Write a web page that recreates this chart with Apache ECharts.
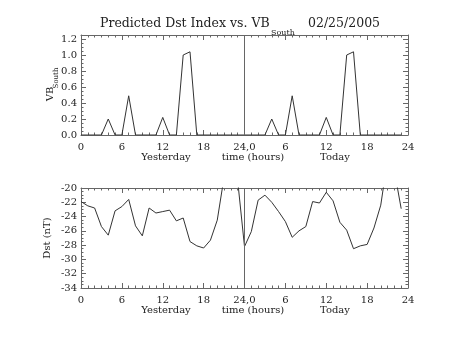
<!DOCTYPE html>
<html>
<head>
<meta charset="utf-8">
<script src="https://cdn.jsdelivr.net/npm/echarts@6/dist/echarts.min.js"></script>
<style>html,body{margin:0;padding:0;background:#fff}#c{width:453px;height:340px}</style>
</head>
<body>
<div id="c"></div>
<script>
// ---- data ----
const xTickLabels = ['0','6','12','18','24,0','6','12','18','24'];
const vbYesterday = [0,0,0,0,0.20,0,0,0.49,0,0,0,0,0.22,0,0,1.00,1.04,0,0,0,0,0,0,0];
const vbToday     = [0,0,0,0,0.20,0,0,0.49,0,0,0,0,0.22,0,0,1.00,1.04,0,0,0,0,0,0,0];
const dstYesterday = [-21.9,-22.5,-22.8,-25.4,-26.6,-23.2,-22.6,-21.6,-25.3,-26.7,-22.8,-23.5,-23.3,-23.1,-24.6,-24.2,-27.5,-28.1,-28.4,-27.3,-24.5,-18.5,-17.0,-19.0];
const dstToday     = [-28.2,-26.1,-21.7,-21.0,-22.0,-23.3,-24.7,-26.9,-26.0,-25.4,-21.9,-22.1,-20.6,-21.8,-24.8,-25.9,-28.5,-28.1,-27.9,-25.6,-22.4,-16.0,-17.6,-22.9];
const dayLabels = ['Yesterday','time (hours)','Today'];

const FONT = 'DejaVu Serif';
const INK = '#333';
const AX = '#666';

const vb = vbYesterday.concat(vbToday).map((v,i)=>[i,v]);
const dst = dstYesterday.concat(dstToday).map((v,i)=>[i,v]);

function xAxisDef(grid, pos, labels){
  return {
    type:'value', gridIndex:grid, position:pos, min:0, max:48, interval:6,
    axisLine:{show:true, onZero:false, lineStyle:{color:AX, width:1}},
    axisTick:{show:true, inside:true, length:5, lineStyle:{color:AX}},
    minorTick:{show:true, splitNumber:6, length:2.5, lineStyle:{color:AX}},
    splitLine:{show:false},
    axisLabel:{show:labels, margin:7, fontFamily:FONT, fontSize:10, color:'#222',
      formatter:(v)=>xTickLabels[Math.round(v/6)]}
  };
}
function yAxisDef(grid, pos, min, max, interval, labels, fmt, minorSplit){
  return {
    type:'value', gridIndex:grid, position:pos, min:min, max:max, interval:interval,
    axisLine:{show:true, onZero:false, lineStyle:{color:AX, width:1}},
    axisTick:{show:true, inside:true, length:5, lineStyle:{color:AX}},
    minorTick:{show:true, splitNumber:minorSplit, length:2.5, lineStyle:{color:AX}},
    splitLine:{show:false},
    axisLabel:{show:labels, margin:4, fontFamily:FONT, fontSize:10, color:'#222', formatter:fmt}
  };
}

const chart = echarts.init(document.getElementById('c'), null, {renderer:'canvas'});
const txt = (x,y,text,size,extra)=>Object.assign({type:'text', x:x, y:y, silent:true,
  style:{text:text, fontFamily:FONT, fontSize:size, fill:'#222', textAlign:'center', textVerticalAlign:'middle'}}, extra||{});
const ltxt = (x,y,text,size)=>({type:'text', x:x, y:y, silent:true,
  style:{text:text, fontFamily:FONT, fontSize:size, fill:'#222', textAlign:'left', textVerticalAlign:'middle'}});

chart.setOption({
  backgroundColor:'#fff',
  animation:false,
  grid:[
    {left:81, right:45, top:35, height:100},
    {left:81, right:45, top:188, height:100}
  ],
  xAxis:[
    xAxisDef(0,'bottom',true), xAxisDef(0,'top',false),
    xAxisDef(1,'bottom',true), xAxisDef(1,'top',false)
  ],
  yAxis:[
    yAxisDef(0,'left',0,1.25,0.2,true,(v)=>v.toFixed(1),4),
    yAxisDef(0,'right',0,1.25,0.2,false,(v)=>v.toFixed(1),4),
    yAxisDef(1,'left',-34,-20,2,true,(v)=>String(v),4),
    yAxisDef(1,'right',-34,-20,2,false,(v)=>String(v),4)
  ],
  series:[
    {type:'line', xAxisIndex:0, yAxisIndex:0, data:vb, showSymbol:false, clip:true,
     lineStyle:{color:INK, width:1},
     markLine:{silent:true, symbol:'none', label:{show:false}, lineStyle:{color:AX, width:1, type:'solid'}, data:[{xAxis:24}]}},
    {type:'line', xAxisIndex:2, yAxisIndex:2, data:dst, showSymbol:false, clip:true,
     lineStyle:{color:INK, width:1},
     markLine:{silent:true, symbol:'none', label:{show:false}, lineStyle:{color:AX, width:1, type:'solid'}, data:[{xAxis:24}]}}
  ],
  graphic:[
    ltxt(100,24,'Predicted Dst Index vs. VB',12.5),
    ltxt(271,33,'South',8),
    ltxt(308,24,'02/25/2005',12.5),
    txt(166,157,dayLabels[0],10), txt(253,157,dayLabels[1],10), txt(335,157,dayLabels[2],10),
    txt(166,310,dayLabels[0],10), txt(253,310,dayLabels[1],10), txt(335,310,dayLabels[2],10),
    txt(50,94,'VB',10,{rotation:Math.PI/2}),
    txt(56,78,'South',7,{rotation:Math.PI/2}),
    txt(47,238,'Dst (nT)',10,{rotation:Math.PI/2})
  ]
});
</script>
</body>
</html>
